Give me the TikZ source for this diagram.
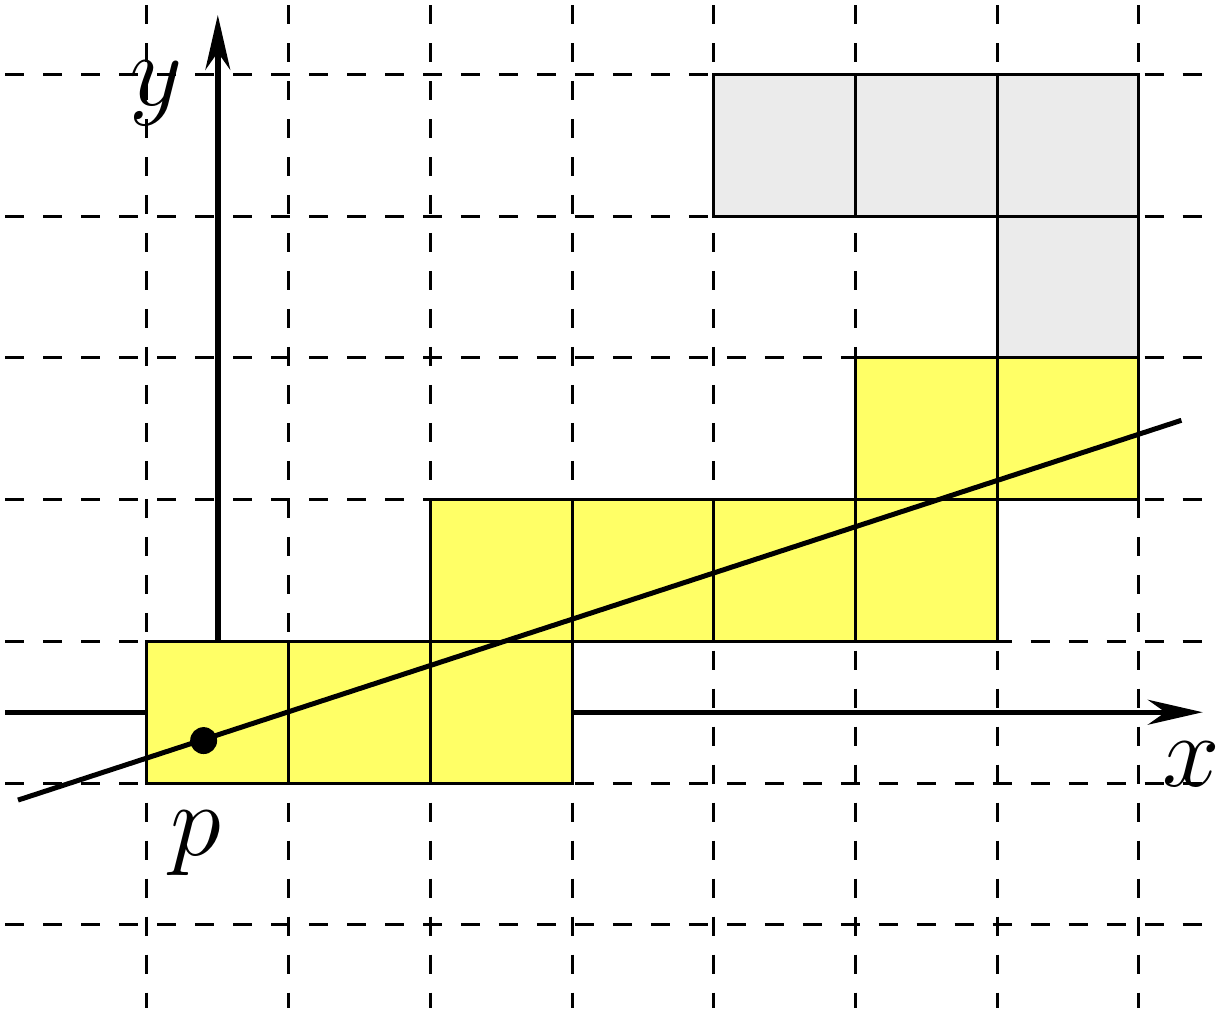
\documentclass[tikz,border=0pt]{standalone}
\usetikzlibrary{arrows.meta}
\definecolor{cellyellow}{RGB}{255,255,102}
\definecolor{cellgray}{RGB}{235,235,235}
\tikzset{
  gridline/.style={line width=0.6pt, dash pattern=on 0.134cm off 0.134cm},
  axisline/.style={line width=1.1pt, -{Stealth[length=11pt,width=5pt,inset=3.5pt]}},
  ycell/.style={fill=cellyellow, draw=black, line width=0.6pt},
  gcell/.style={fill=cellgray, draw=black, line width=0.6pt},
  mainline/.style={line width=1pt},
  lbl/.style={font=\fontsize{20}{24}\selectfont, inner sep=0pt}
}
\begin{document}
\begin{tikzpicture}
\useasboundingbox (-1.037,-1.588) rectangle (7.551,5.526);
% axes
\coordinate (xs) at (-1.0,0.5);
\coordinate (xe) at (7.45,0.5);
\coordinate (ys) at (0.5,1);
\coordinate (ye) at (0.5,5.42);
\draw[axisline] (xs) -- (xe);
\draw[axisline] (ys) -- (ye);
% yellow cells
\foreach \i in {0,1,2} \draw[ycell] (\i,0) rectangle ++(1,1);
\foreach \i in {2,3,4,5} \draw[ycell] (\i,1) rectangle ++(1,1);
\foreach \i in {5,6} \draw[ycell] (\i,2) rectangle ++(1,1);
% gray cells
\draw[gcell] (6,3) rectangle ++(1,1);
\foreach \i in {4,5,6} \draw[gcell] (\i,4) rectangle ++(1,1);
% grid
\foreach \i in {0,...,7} \draw[gridline] (\i,5.49) -- (\i,-1.588);
\foreach \j in {-1,...,5} \draw[gridline] (-1.0,\j) -- (7.45,\j);
% main line
\coordinate (la) at (-0.91,-0.12);
\coordinate (lb) at (7.30,2.56);
\draw[mainline] (la) -- (lb);
\node[circle, fill=black, inner sep=0pt, minimum size=0.19cm] (p) at (0.4,0.3) {};
% labels
\node[lbl] (ylab) at (0.064,4.87) {$y$};
\node[lbl] (xlab) at (7.368,0.134) {$x$};
\node[lbl] (plab) at (0.346,-0.423) {$p$};
\end{tikzpicture}
\end{document}
